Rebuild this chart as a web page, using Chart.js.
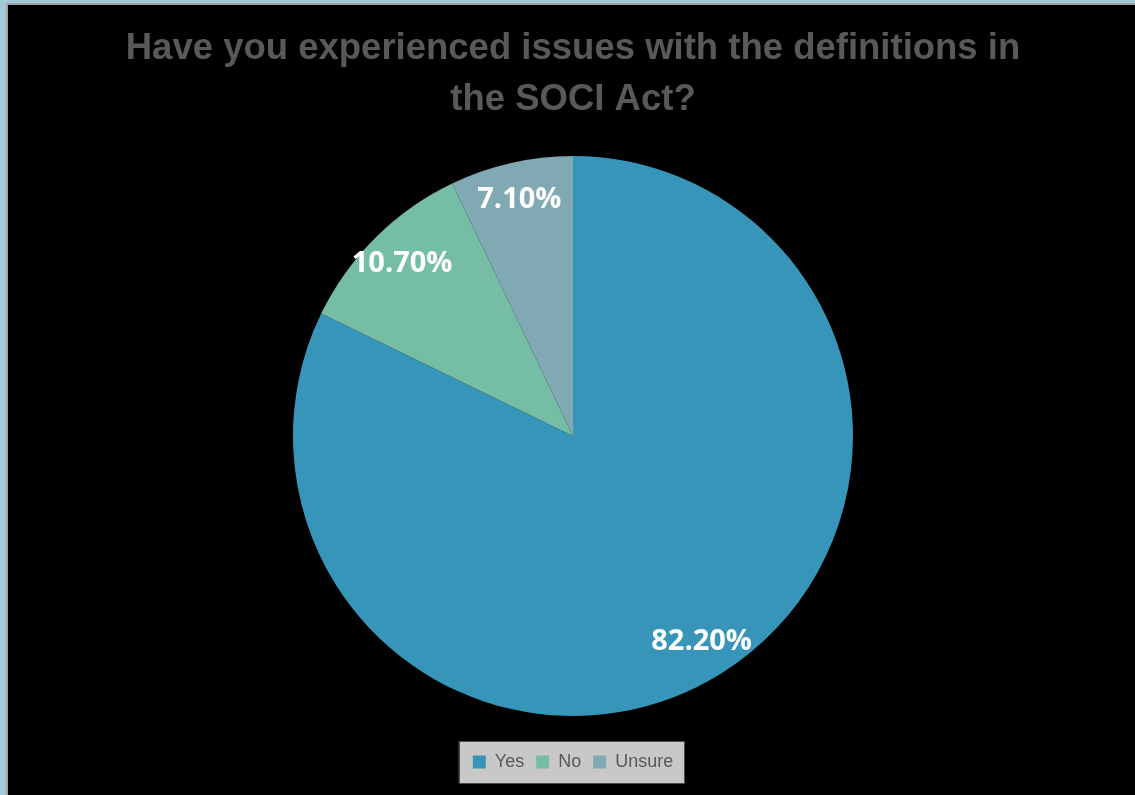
<!DOCTYPE html>
<html>
<head>
<meta charset="utf-8">
<script src="https://cdn.jsdelivr.net/npm/chart.js@4"></script>
<style>
  html, body { margin: 0; padding: 0; }
  body { width: 1135px; height: 795px; background: #A2C9D9; position: relative; overflow: hidden; }
  #frame {
    position: absolute; left: 6px; top: 3px; width: 1127px; height: 790px;
    border-left: 2px solid #A3A3A3; border-top: 2px solid #A3A3A3; background: #000;
  }
  #chart { display: block; }
</style>
</head>
<body>
<div id="frame"><canvas id="chart" width="1127" height="790"></canvas></div>
<script>
const titleLines = ['Have you experienced issues with the definitions in', 'the SOCI Act?'];
const categories = ['Yes', 'No', 'Unsure'];
const percentages = [82.2, 10.7, 7.1];
const sliceColors = ['#3795BA', '#76BDA5', '#81A9B4'];

// Grey panel behind the legend entries
const legendPanel = {
  id: 'legendPanel',
  afterDraw(chart) {
    const lg = chart.legend;
    if (!lg || !lg.legendHitBoxes || !lg.legendHitBoxes.length) return;
    const boxes = lg.legendHitBoxes;
    const left = Math.min(...boxes.map(b => b.left)) - 14;
    const right = Math.max(...boxes.map(b => b.left + b.width)) + 11;
    const cy = boxes[0].top + boxes[0].height / 2;
    const ctx = chart.ctx;
    ctx.save();
    ctx.globalCompositeOperation = 'destination-over';
    ctx.fillStyle = '#C8C8C8';
    ctx.fillRect(left, cy - 21, right - left, 42);
    ctx.restore();
    ctx.save();
    ctx.strokeStyle = '#4A4A4A';
    ctx.lineWidth = 1;
    ctx.strokeRect(Math.round(left) + 0.5, Math.round(cy - 21) + 0.5, Math.round(right - left), 42);
    ctx.restore();
  }
};

// Percentage labels placed near the outer edge of each slice
const sliceLabels = {
  id: 'sliceLabels',
  afterDatasetsDraw(chart) {
    const ctx = chart.ctx;
    const meta = chart.getDatasetMeta(0);
    const values = chart.data.datasets[0].data;
    ctx.save();
    ctx.fillStyle = '#FFFFFF';
    ctx.font = 'bold 29px "Open Sans", sans-serif';
    ctx.textAlign = 'center';
    ctx.textBaseline = 'middle';
    meta.data.forEach((arc, i) => {
      const p = arc.getProps(['x', 'y', 'startAngle', 'endAngle', 'outerRadius'], true);
      const mid = (p.startAngle + p.endAngle) / 2;
      const r = p.outerRadius * 0.866;
      ctx.fillText(values[i].toFixed(2) + '%', p.x + Math.cos(mid) * r, p.y + Math.sin(mid) * r);
    });
    ctx.restore();
  }
};

new Chart(document.getElementById('chart'), {
  type: 'pie',
  data: {
    labels: categories,
    datasets: [{
      data: percentages,
      backgroundColor: sliceColors,
      borderWidth: 0,
      radius: 280
    }]
  },
  options: {
    responsive: false,
    animation: false,
    layout: { padding: { top: 0, bottom: 14, left: 3, right: 0 } },
    plugins: {
      title: {
        display: true,
        text: titleLines,
        color: '#595959',
        font: { family: '"Liberation Sans", Arial, sans-serif', size: 36.5, weight: 'bold', lineHeight: 1.397 },
        padding: { top: 18.5, bottom: 5.5 }
      },
      legend: {
        display: true,
        position: 'bottom',
        labels: {
          color: '#595959',
          font: { family: '"Liberation Sans", Arial, sans-serif', size: 18 },
          boxWidth: 13,
          boxHeight: 13,
          padding: 12
        }
      },
      tooltip: { enabled: false }
    }
  },
  plugins: [legendPanel, sliceLabels]
});
</script>
</body>
</html>
